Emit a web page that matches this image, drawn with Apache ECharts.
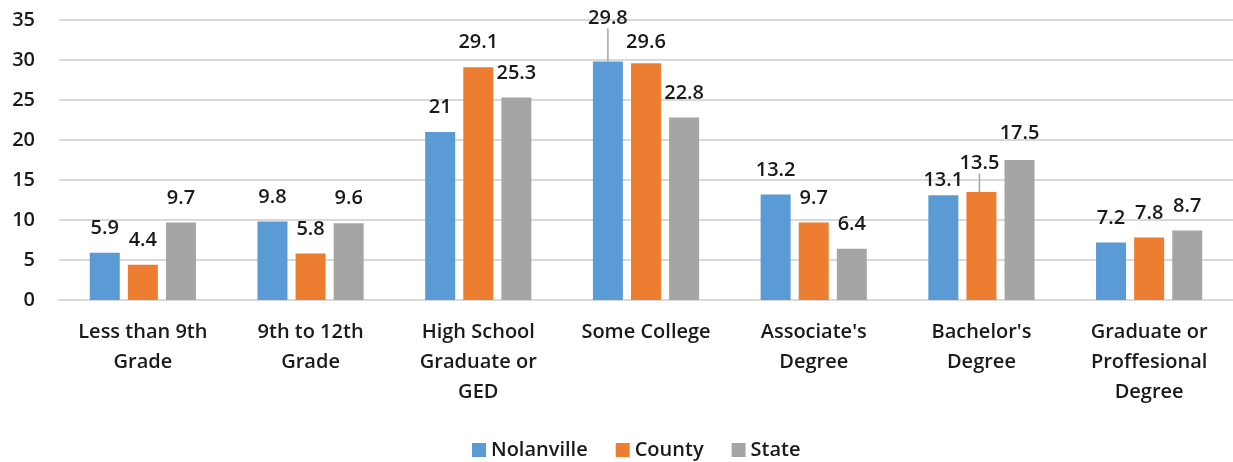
<!DOCTYPE html>
<html>
<head>
<meta charset="utf-8">
<script src="https://cdn.jsdelivr.net/npm/echarts@6/dist/echarts.min.js"></script>
<style>html,body{margin:0;padding:0;background:#fff}#c{width:1233px;height:462px}</style>
</head>
<body>
<div id="c"></div>
<script>
const categories = [
  "Less than 9th\nGrade",
  "9th to 12th\nGrade",
  "High School\nGraduate or\nGED",
  "Some College",
  "Associate's\nDegree",
  "Bachelor's\nDegree",
  "Graduate or\nProffesional\nDegree"
];
const seriesNames = ["Nolanville", "County", "State"];
const nolanville = [5.9, 9.8, 21, 29.8, 13.2, 13.1, 7.2];
const county = [4.4, 5.8, 29.1, 29.6, 9.7, 13.5, 7.8];
const state = [9.7, 9.6, 25.3, 22.8, 6.4, 17.5, 8.7];
const yTicks = [0, 5, 10, 15, 20, 25, 30, 35];

const colors = ["#5B9BD5", "#ED7D31", "#A5A5A5"];
const font = "'Open Sans', sans-serif";
const textColor = '#1a1a1a';
const weight = 600;

// label nudges (Excel-style manual label placement): key "series-index" -> [dx, dy]
const nudges = { "0-3": [0, -19], "1-3": [0, 3.5], "0-5": [0, 9.5], "1-5": [-2, -4.5], "2-5": [0, -2.5] };
const leaders = { "0-3": true, "1-5": true };

function buildData(vals, si) {
  return vals.map((v, i) => {
    const key = si + "-" + i;
    return leaders[key] ? { value: v, labelLine: { show: true } } : v;
  });
}

const chart = echarts.init(document.getElementById('c'), null, { renderer: 'canvas' });
const allSeries = [nolanville, county, state].map((vals, si) => ({
  name: seriesNames[si],
  type: 'bar',
  data: buildData(vals, si),
  barWidth: 30,
  barGap: '27%',
  itemStyle: { color: colors[si] },
  label: {
    show: true,
    position: 'top',
    distance: 14,
    fontFamily: font,
    fontSize: 20,
    fontWeight: weight,
    lineHeight: 21,
    color: textColor
  },
  labelLine: { show: false, lineStyle: { color: '#A5A5A5', width: 1.5 } },
  labelLayout: function (p) {
    const n = nudges[p.seriesIndex + "-" + p.dataIndex];
    return n ? { dx: n[0], dy: n[1] } : {};
  }
}));

chart.setOption({
  animation: false,
  backgroundColor: '#fff',
  grid: { left: 59, top: 20, width: 1176, bottom: 162, containLabel: false },
  legend: {
    data: seriesNames,
    left: 467,
    top: 435,
    itemWidth: 14,
    itemHeight: 14,
    itemGap: 28,
    icon: 'rect',
    textStyle: { fontFamily: font, fontSize: 20, fontWeight: weight, color: textColor }
  },
  xAxis: {
    type: 'category',
    data: categories,
    axisLine: { show: true, lineStyle: { color: '#D9D9D9', width: 2 } },
    axisTick: { show: false },
    axisLabel: {
      interval: 0,
      margin: 17,
      fontFamily: font,
      fontSize: 20,
      fontWeight: weight,
      lineHeight: 30,
      color: textColor
    }
  },
  yAxis: {
    type: 'value',
    min: yTicks[0],
    max: yTicks[yTicks.length - 1],
    interval: 5,
    axisLine: { show: false },
    axisTick: { show: false },
    splitLine: { lineStyle: { color: '#D9D9D9', width: 2 } },
    axisLabel: { margin: 24, fontFamily: font, fontSize: 20, fontWeight: weight, color: textColor }
  },
  series: allSeries
});
</script>
</body>
</html>
